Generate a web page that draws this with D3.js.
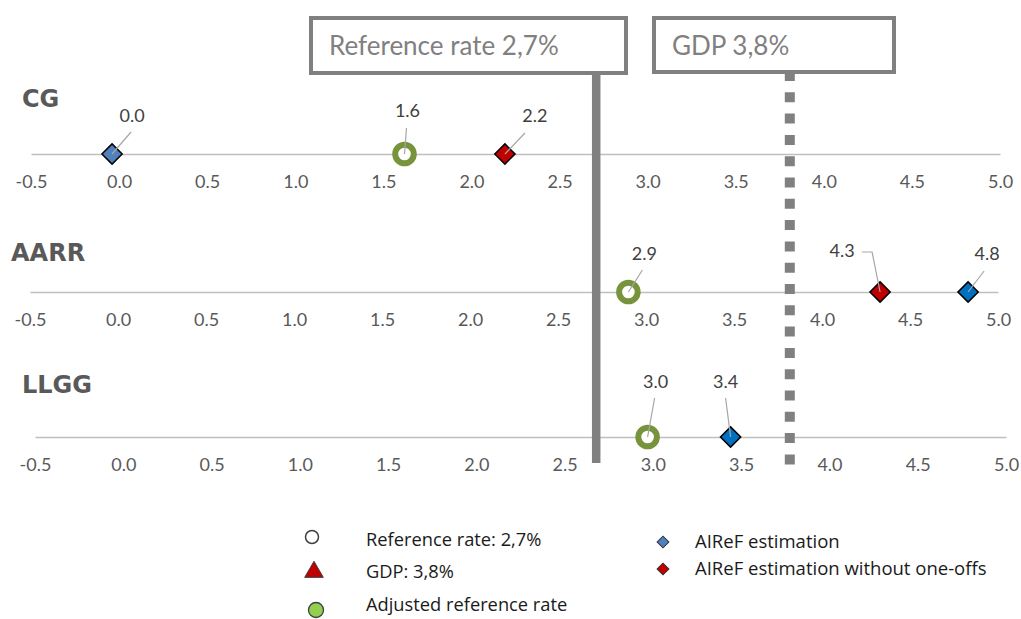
<!DOCTYPE html>
<html><head><meta charset="utf-8">
<script src="https://cdn.jsdelivr.net/npm/d3@7"></script>
<style>body{margin:0;background:#fff} svg{display:block}</style>
</head><body><svg id="chart" width="1021" height="619"></svg>
<script>
// ---- data ----
const panels = ["CG", "AARR", "LLGG"];
const tickValues = [-0.5, 0, 0.5, 1, 1.5, 2, 2.5, 3, 3.5, 4, 4.5, 5];
const adjustedRate = [1.62, 2.90, 2.97];        // adjusted reference rate
const airefEstimate = [-0.04, 4.83, 3.44];      // AIReF estimation
const airefNoOneOffs = [2.19, 4.33, null];      // AIReF estimation without one-offs
const referenceRate = 2.7;
const gdpGrowth = 3.8;
const boxTexts = ["Reference rate 2,7%", "GDP 3,8%"];
const legendItems = ["Reference rate: 2,7%", "GDP: 3,8%", "Adjusted reference rate",
                     "AIReF estimation", "AIReF estimation without one-offs"];

// ---- layout ----
const layout = [
  {axisY: 154, x0: 31, x1: 1000, titleX: 22, titleY: 98},
  {axisY: 292, x0: 30, x1: 998, titleX: 11, titleY: 252},
  {axisY: 437, x0: 35, x1: 1006, titleX: 22, titleY: 384}
];
const estColors = ["#4f81bd", "#0070c0", "#0070c0"];
// label offsets relative to the marker, plus leader-line bend points
const labelPos = {
  est:   [{dx: 20, dy: -38, leader: [[19, -22]]},
          {dx: 19, dy: -38, leader: [[16, -21]]},
          {dx: -5, dy: -55, leader: [[-5, -39]]}],
  noOne: [{dx: 30, dy: -38, leader: [[20, -21]]},
          {dx: -38, dy: -41, leader: [[-8, -40], [-18, -40]]},
          null],
  adj:   [{dx: 3, dy: -43, leader: [[2, -26]]},
          {dx: 16, dy: -38, leader: [[14, -22]]},
          {dx: 8, dy: -55, leader: [[7, -39]]}]
};

const fmt = v => (Math.round(v * 10) / 10).toFixed(1);
const font = "Lato, 'Open Sans', sans-serif";

const svg = d3.select("#chart");
const gAxes = svg.append("g");
const gRef = svg.append("g");
const gMarks = svg.append("g");

const diamond = d3.symbol().type(d3.symbolSquare).size(205);

panels.forEach((name, i) => {
  const L = layout[i];
  const x = d3.scaleLinear().domain([-0.5, 5]).range([L.x0, L.x1]);

  // row title
  gAxes.append("text")
    .attr("x", L.titleX).attr("y", L.titleY).attr("dy", "0.36em")
    .attr("font-family", "'DejaVu Sans', sans-serif").attr("font-weight", "bold").attr("font-size", 24)
    .attr("fill", "#595959").text(name);

  const axis = d3.axisBottom(x).tickValues(tickValues)
    .tickFormat(d => d.toFixed(1)).tickSize(0).tickSizeOuter(0).tickPadding(21);
  const ga = gAxes.append("g").attr("transform", `translate(0,${L.axisY})`).call(axis);
  ga.select(".domain").attr("stroke", "#bfbfbf").attr("stroke-width", 1.5);
  ga.selectAll("text").attr("font-family", font).attr("font-size", 18).attr("fill", "#595959");

  const g = gMarks.append("g").attr("transform", `translate(0,${L.axisY})`);

  const points = [
    {v: adjustedRate[i], kind: "adj"},
    {v: airefNoOneOffs[i], kind: "noOne"},
    {v: airefEstimate[i], kind: "est"}
  ].filter(p => p.v !== null);

  points.forEach(p => {
    const cx = x(p.v);
    const pos = labelPos[p.kind][i];
    const pts = [[cx, 0]].concat(pos.leader.map(([a, b]) => [cx + a, b]));
    // marker
    if (p.kind === "adj") {
      g.append("circle").attr("cx", cx).attr("cy", 0).attr("r", 9.3)
        .attr("fill", "#fff").attr("stroke", "#77933c").attr("stroke-width", 6);
    } else {
      g.append("path").attr("d", diamond)
        .attr("transform", `translate(${cx},0) rotate(45)`)
        .attr("fill", p.kind === "est" ? estColors[i] : "#c00000")
        .attr("stroke", "#000").attr("stroke-width", 1.5);
    }
    // leader line
    g.append("path").attr("d", d3.line()(pts))
      .attr("fill", "none").attr("stroke", "#a6a6a6").attr("stroke-width", 1.2);
    g.append("text")
      .attr("x", cx + pos.dx).attr("y", pos.dy).attr("dy", "0.35em")
      .attr("text-anchor", "middle")
      .attr("font-family", font).attr("font-size", 18).attr("fill", "#404040")
      .text(fmt(p.v));
  });
});

// reference lines
const xr = d3.scaleLinear().domain([-0.5, 5]).range([33, 1001]);
gRef.append("line")
  .attr("x1", xr(referenceRate)).attr("x2", xr(referenceRate))
  .attr("y1", 73).attr("y2", 463)
  .attr("stroke", "#808080").attr("stroke-width", 8.5);
gRef.append("line")
  .attr("x1", xr(gdpGrowth)).attr("x2", xr(gdpGrowth))
  .attr("y1", 71).attr("y2", 464.5)
  .attr("stroke", "#808080").attr("stroke-width", 10)
  .attr("stroke-dasharray", "10,11.3");

// callout boxes
const boxes = [
  {x: 311, y: 18, w: 315, h: 55, text: boxTexts[0]},
  {x: 654, y: 18, w: 240, h: 54, text: boxTexts[1]}
];
boxes.forEach(b => {
  svg.append("rect").attr("x", b.x).attr("y", b.y).attr("width", b.w).attr("height", b.h)
    .attr("fill", "#fff").attr("stroke", "#808080").attr("stroke-width", 4);
  svg.append("text").attr("x", b.x + 18).attr("y", b.y + 28).attr("dy", "0.35em")
    .attr("font-family", font).attr("font-size", 26).attr("fill", "#808080").text(b.text);
});

// legend
const lg = svg.append("g");
const legendFont = "'Open Sans', sans-serif";
const leftRows = [540, 572, 605];
lg.append("circle").attr("cx", 312).attr("cy", 537).attr("r", 6.5)
  .attr("fill", "#fff").attr("stroke", "#404040").attr("stroke-width", 1.5);
lg.append("path").attr("d", d3.symbol().type(d3.symbolTriangle).size(150))
  .attr("transform", "translate(314,572)")
  .attr("fill", "#c00000").attr("stroke", "#404040").attr("stroke-width", 1);
lg.append("circle").attr("cx", 316).attr("cy", 610).attr("r", 7.5)
  .attr("fill", "#92d050").attr("stroke", "#404040").attr("stroke-width", 1.3);
legendItems.slice(0, 3).forEach((t, k) => {
  lg.append("text").attr("x", 366).attr("y", leftRows[k]).attr("dy", "0.35em")
    .attr("font-family", legendFont).attr("font-size", 18.3).attr("fill", "#1a1a1a").text(t);
});
const rightRows = [542, 569];
const legDiamond = d3.symbol().type(d3.symbolSquare).size(70);
["#4f81bd", "#c00000"].forEach((c, k) => {
  lg.append("path").attr("d", legDiamond)
    .attr("transform", `translate(663,${rightRows[k]}) rotate(45)`)
    .attr("fill", c).attr("stroke", "#333").attr("stroke-width", 1);
});
legendItems.slice(3).forEach((t, k) => {
  lg.append("text").attr("x", 695).attr("y", rightRows[k]).attr("dy", "0.35em")
    .attr("font-family", legendFont).attr("font-size", 18.5).attr("fill", "#1a1a1a").text(t);
});
</script></body></html>
